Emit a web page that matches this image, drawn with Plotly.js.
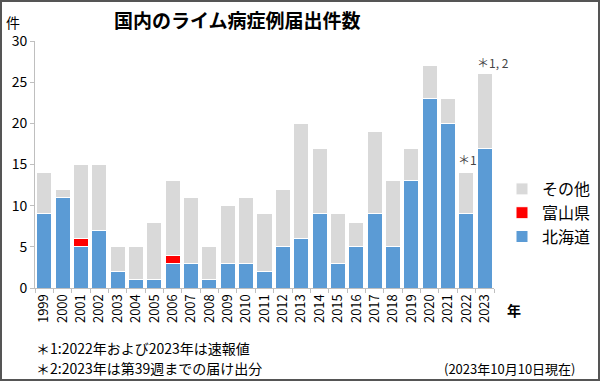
<!DOCTYPE html>
<html><head><meta charset="utf-8">
<script src="https://cdn.plot.ly/plotly-3.0.1.min.js"></script>
<style>
html,body{margin:0;padding:0;background:#fff;}
#wrap{width:600px;height:381px;box-sizing:border-box;border:2px solid #555;overflow:hidden;position:relative;}
#chart{position:absolute;left:-2px;top:-2px;width:600px;height:381px;}
</style></head>
<body><div id="wrap"><div id="chart"></div></div>
<script>
const years = ['1999','2000','2001','2002','2003','2004','2005','2006','2007','2008','2009','2010','2011','2012','2013','2014','2015','2016','2017','2018','2019','2020','2021','2022','2023'];
const hokkaido = [9,11,5,7,2,1,1,3,3,1,3,3,2,5,6,9,3,5,9,5,13,23,20,9,17];
const toyama   = [0,0,1,0,0,0,0,1,0,0,0,0,0,0,0,0,0,0,0,0,0,0,0,0,0];
const totals   = [14,12,15,15,5,5,8,13,11,5,10,11,9,12,20,17,9,8,19,13,17,27,23,14,26];
const others = totals.map((t,i)=>t-hokkaido[i]-toyama[i]);
const yTicks = [0,5,10,15,20,25,30];

const font = 'Noto Sans CJK JP, Noto Sans, sans-serif';
const lineStyle = {color:'#ffffff', width:1};
const traces = [
  {type:'bar', name:'北海道', x:years, y:hokkaido, marker:{color:'#5b9bd5', line:lineStyle}},
  {type:'bar', name:'富山県', x:years, y:toyama, marker:{color:'#ff0000', line:lineStyle}},
  {type:'bar', name:'その他', x:years, y:others, marker:{color:'#d9d9d9', line:lineStyle}}
];
const L=35, R=106, T=41, B=93, W=600-L-R, H=381-T-B;
const px = x => (x-L)/W, py = y => (381-B-y)/H;
const layout = {
  width:600, height:381,
  margin:{l:L, r:R, t:T, b:B, pad:0, autoexpand:false},
  paper_bgcolor:'#fff', plot_bgcolor:'#fff',
  font:{family:font, color:'#000'},
  barmode:'stack', bargap:0.18,
  showlegend:true,
  legend:{xref:'container', yref:'container', x:502/600, y:1-172/381, xanchor:'left', yanchor:'top', traceorder:'reversed',
          font:{size:16, family:font}, itemwidth:30, tracegroupgap:0, bgcolor:'rgba(0,0,0,0)'},
  xaxis:{type:'category', range:[-0.5, years.length-0.5], autorange:false, tickangle:-90, tickfont:{size:13, family:font},
         showline:true, linecolor:'#bfbfbf', linewidth:1, ticks:'outside', tickcolor:'#bfbfbf',
         ticklen:4, tickson:'boundaries', showgrid:false, zeroline:false, fixedrange:true},
  yaxis:{range:[0,30], autorange:false, tickvals:yTicks, ticktext:yTicks.map(String), tickfont:{size:14, family:font},
         showline:true, linecolor:'#bfbfbf', linewidth:1, ticks:'outside', tickcolor:'#bfbfbf',
         ticklen:4, showgrid:false, zeroline:false, fixedrange:true},
  annotations:[
    {xref:'paper', yref:'paper', x:px(237), y:py(20), text:'<b>国内のライム病症例届出件数</b>', showarrow:false, font:{size:19, family:font}, xanchor:'center', yanchor:'middle'},
    {xref:'paper', yref:'paper', x:px(13), y:py(22), text:'件', showarrow:false, font:{size:14, family:font}, xanchor:'center', yanchor:'middle'},
    {xref:'paper', yref:'paper', x:px(514), y:py(310), text:'<b>年</b>', showarrow:false, font:{size:14, family:font}, xanchor:'center', yanchor:'middle'},
    {xref:'x', yref:'y', x:24, y:totals[24], text:'＊1, 2', showarrow:false, yanchor:'bottom', yshift:1, xshift:8, font:{size:12, color:'#444', family:font}},
    {xref:'x', yref:'y', x:23, y:totals[23], text:'＊1', showarrow:false, yanchor:'bottom', yshift:3, xshift:1, font:{size:12, color:'#444', family:font}},
    {xref:'paper', yref:'paper', x:px(34), y:py(348), text:'＊1:2022年および2023年は速報値', showarrow:false, xanchor:'left', yanchor:'middle', font:{size:14, family:font}},
    {xref:'paper', yref:'paper', x:px(34), y:py(368), text:'＊2:2023年は第39週までの届け出分', showarrow:false, xanchor:'left', yanchor:'middle', font:{size:14, family:font}},
    {xref:'paper', yref:'paper', x:px(578), y:py(368), text:'(2023年10月10日現在)', showarrow:false, xanchor:'right', yanchor:'middle', font:{size:13, family:font}}
  ]
};
Plotly.newPlot('chart', traces, layout, {displayModeBar:false, staticPlot:true});
</script></body></html>
